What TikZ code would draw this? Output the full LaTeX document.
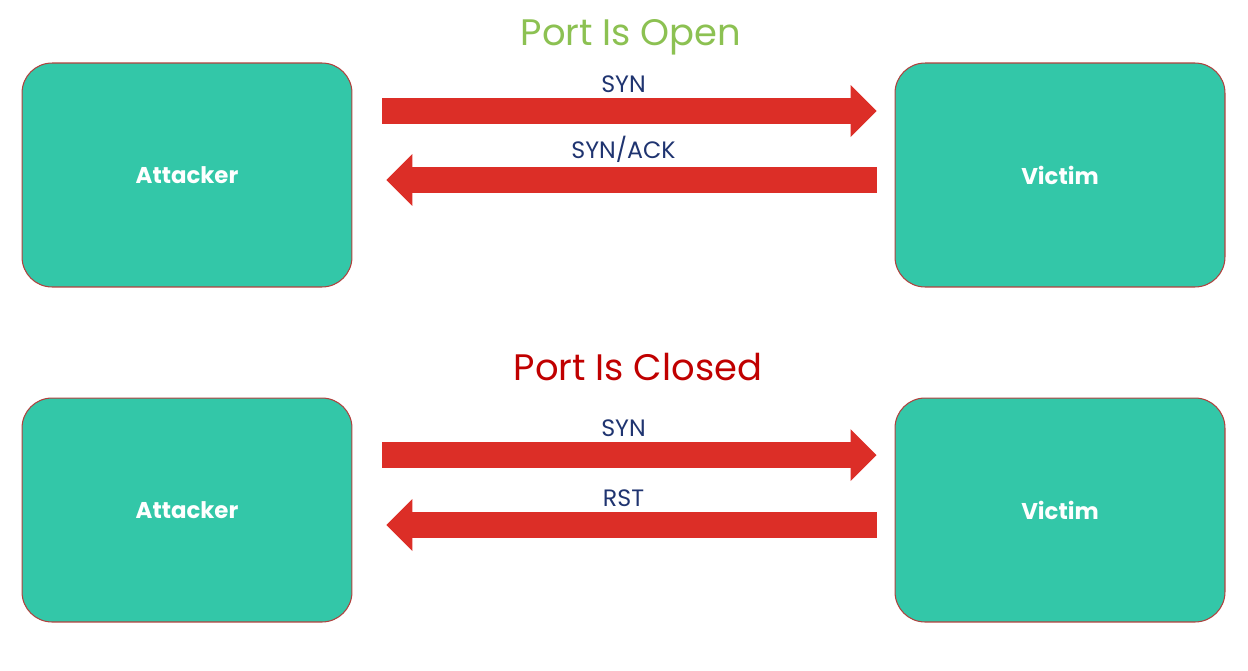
\documentclass[tikz,border=0pt]{standalone}
\usepackage{fontspec}
\setmainfont{Poppins}
\usetikzlibrary{arrows.meta}

\definecolor{boxfill}{HTML}{33C7A8}
\definecolor{boxline}{HTML}{B0413E}
\definecolor{sigred}{HTML}{DC2E27}
\definecolor{msgblue}{HTML}{1F3470}
\definecolor{okgreen}{HTML}{8CC152}
\definecolor{badred}{HTML}{C00000}

\begin{document}
\begin{tikzpicture}[x=0.02cm,y=-0.02cm,
  box/.style={draw=boxline,fill=boxfill,rounded corners=0.6cm,minimum width=6.6cm,minimum height=4.48cm,line width=0.6pt,text=white,font=\fontsize{13}{15}\selectfont\bfseries},
  sig/.style={draw=sigred,line width=0.52cm,-{Triangle[length=0.52cm,width=1.04cm,line width=0pt]}},
  msg/.style={text=msgblue,font=\fontsize{13.5}{16}\selectfont,yshift=0.54cm},
  ttl/.style={font=\fontsize{21}{25}\selectfont}]

    \useasboundingbox (0,0) rectangle (1248,670);

    % port open
    \node[ttl,text=okgreen] (open) at (631,37) {Port Is Open};
    \node[box] (att1) at (187,175) {Attacker};
    \node[box] (vic1) at (1060,175) {Victim};
    \draw[sig,shorten <=0.6cm,shorten >=0.36cm] ([yshift=1.28cm]att1.east) -- ([yshift=1.28cm]vic1.west) node[midway,msg]{SYN};
    \draw[sig,shorten <=0.36cm,shorten >=0.68cm] ([yshift=-0.1cm]vic1.west) -- ([yshift=-0.1cm]att1.east) node[midway,msg,yshift=0.08cm]{SYN/ACK};

    % port closed
    \node[ttl,text=badred] (closed) at (638,367) {Port Is Closed};
    \node[box] (att2) at (187,510) {Attacker};
    \node[box] (vic2) at (1060,510) {Victim};
    \draw[sig,shorten <=0.6cm,shorten >=0.36cm] ([yshift=1.1cm]att2.east) -- ([yshift=1.1cm]vic2.west) node[midway,msg]{SYN};
    \draw[sig,shorten <=0.36cm,shorten >=0.68cm] ([yshift=-0.3cm]vic2.west) -- ([yshift=-0.3cm]att2.east) node[midway,msg]{RST};
\end{tikzpicture}
\end{document}
